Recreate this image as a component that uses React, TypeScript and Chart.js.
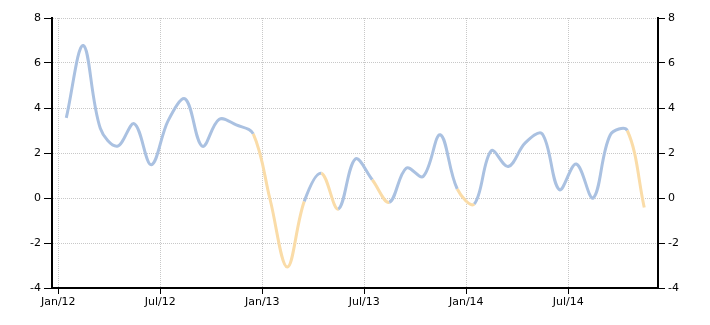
import React, { useEffect, useRef } from "react";
import { Chart, registerables } from "chart.js";

Chart.register(...registerables);

// Monthly values, Jan 2012 .. Nov 2014
const values: number[] = [
  3.56, 6.78, 3.1, 2.3, 3.3, 1.48, 3.45, 4.4, 2.3, 3.5, 3.25, 2.85,
  -0.1, -3.07, -0.15, 1.1, -0.49, 1.73, 0.81, -0.19, 1.33, 0.96, 2.81, 0.4,
  -0.27, 2.1, 1.4, 2.45, 2.85, 0.37, 1.51, 0.0, 2.8, 3.0, -0.42,
];
const tickPositions: number[] = [0, 6, 12, 18, 24, 30];
const tickLabels: string[] = ["Jan/12", "Jul/12", "Jan/13", "Jul/13", "Jan/14", "Jul/14"];
const yTicks: number[] = [-4, -2, 0, 2, 4, 6, 8];

const BLUE = "rgb(170,193,225)";
const ORANGE = "rgb(250,220,168)";
const GRID = "rgb(200,200,200)";

export default function App() {
  const ref = useRef<HTMLCanvasElement | null>(null);
  useEffect(() => {
    if (!ref.current) return;
    const data = values.map((v, i) => ({ x: i + 0.47, y: v }));
    const yScaleCommon = {
      min: -4,
      max: 8,
      afterBuildTicks: (s: any) => {
        s.ticks = yTicks.map((v) => ({ value: v }));
      },
      afterFit: (s: any) => {
        s.width = 52;
      },
    };
    const chart = new Chart(ref.current, {
      type: "line",
      data: {
        datasets: [
          {
            data,
            borderColor: BLUE,
            borderWidth: 3,
            pointRadius: 0,
            tension: 0.36,
            fill: false,
            segment: {
              borderColor: (ctx: any) => (ctx.p1.parsed.y < 0 ? ORANGE : BLUE),
            },
          },
        ],
      },
      options: {
        responsive: false,
        animation: false,
        events: [],
        layout: { padding: { top: 18, left: 0, right: 0, bottom: 0 } },
        plugins: { legend: { display: false }, tooltip: { enabled: false } },
        scales: {
          x: {
            type: "linear",
            min: -0.37,
            max: 35.28,
            afterBuildTicks: (s: any) => {
              s.ticks = tickPositions.map((v) => ({ value: v }));
            },
            afterFit: (s: any) => {
              s.height = 37;
            },
            ticks: {
              autoSkip: false,
              maxRotation: 0,
              padding: 2,
              color: "#000",
              font: { family: "DejaVu Sans", size: 11 },
              callback: (v: any) => {
                const idx = tickPositions.indexOf(Number(v));
                return idx >= 0 ? tickLabels[idx] : "";
              },
            },
            grid: {
              color: GRID,
              lineWidth: 1,
              tickLength: 6,
              tickColor: "#000",
              tickWidth: 1,
            },
            border: { display: true, color: "#000", width: 2, dash: [1, 1] },
          },
          y: {
            position: "left",
            ...yScaleCommon,
            ticks: {
              padding: 3,
              color: "#000",
              font: { family: "DejaVu Sans", size: 11 },
            },
            grid: {
              color: GRID,
              lineWidth: 1,
              tickLength: 8,
              tickColor: "#000",
              tickWidth: 1,
            },
            border: { display: true, color: "#000", width: 2, dash: [1, 1] },
          },
          y2: {
            position: "right",
            ...yScaleCommon,
            ticks: {
              padding: 3,
              color: "#000",
              font: { family: "DejaVu Sans", size: 11 },
            },
            grid: {
              drawOnChartArea: false,
              tickLength: 7,
              tickColor: "#000",
              tickWidth: 1,
            },
            border: { display: true, color: "#000", width: 2 },
          },
        },
      },
    } as any);
    return () => chart.destroy();
  }, []);
  return (
    <div style={{ position: "fixed", left: 0, top: 0, width: 710, height: 325, background: "#fff" }}>
      <canvas ref={ref} width={710} height={325} style={{ display: "block" }} />
    </div>
  );
}
